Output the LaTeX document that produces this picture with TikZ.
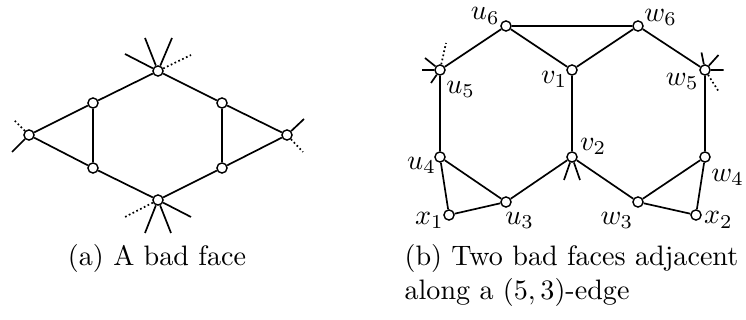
\documentclass[tikz,border=0pt]{standalone}
\usetikzlibrary{positioning}
\tikzset{
  vertex/.style={circle, draw, fill=white, inner sep=0pt, minimum size=3.6pt, line width=0.5pt},
  graphedge/.style={line width=0.6pt},
  stubdotted/.style={line width=0.6pt, dash pattern=on 0.6pt off 0.9pt},
  lbl/.style={label distance=0pt, inner sep=0.6pt},
}
\begin{document}
\begin{tikzpicture}[x=0.0125cm, y=-0.0125cm]
  \useasboundingbox (0,0) rectangle (746,320);
  % (a) a bad face
  \node[vertex] (at) at (158,71) {};
  \node[vertex] (aul) at (93,103) {};
  \node[vertex] (aur) at (222,103) {};
  \node[vertex] (al) at (29,135) {};
  \node[vertex] (ar) at (287,135) {};
  \node[vertex] (all) at (93,168) {};
  \node[vertex] (alr) at (222,168) {};
  \node[vertex] (ab) at (158,200) {};
  \draw[graphedge] (at) -- (aur) -- (ar) -- (alr) -- (ab) -- (all) -- (al) -- (aul) -- (at);
  \draw[graphedge] (aul) -- (all) (aur) -- (alr);
  \draw[graphedge] (at) -- ++(-33,-17) (at) -- ++(-13,-33) (at) -- ++(14,-33);
  \draw[stubdotted] (at) -- ++(33,-16);
  \draw[graphedge] (ab) -- ++(33,17) (ab) -- ++(13,33) (ab) -- ++(-13,33);
  \draw[stubdotted] (ab) -- ++(-33,17);
  \draw[graphedge] (al) -- ++(-17,17);
  \draw[stubdotted] (al) -- ++(-16,-16);
  \draw[graphedge] (ar) -- ++(17,-16);
  \draw[stubdotted] (ar) -- ++(16,17);
  \node (capa) at (157,258) {(a) A bad face};

  % (b) two bad faces along a (5,3)-edge
  \node[vertex, label={[lbl,yshift=-1.6pt]above left:$u_6$}] (u6) at (506,26) {};
  \node[vertex, label={[lbl,yshift=-2pt]above right:$w_6$}] (w6) at (638,26) {};
  \node[vertex, label={[lbl,yshift=-1.8pt]below right:$u_5$}] (u5) at (440,70) {};
  \node[vertex, label={[lbl,xshift=0.6pt,yshift=1.8pt]below left:$v_1$}] (v1) at (572,70) {};
  \node[vertex, label={[lbl,yshift=1pt]below left:$w_5$}] (w5) at (705,70) {};
  \node[vertex, label={[lbl,xshift=1.4pt,yshift=-3pt]left:$u_4$}] (u4) at (440,157) {};
  \node[vertex, label={[lbl,xshift=0.6pt,yshift=-1.4pt]above right:$v_2$}] (v2) at (572,157) {};
  \node[vertex, label={[lbl,yshift=-2pt]below right:$w_4$}] (w4) at (705,157) {};
  \node[vertex, label={[lbl,xshift=-2.5pt,yshift=-1.4pt]below right:$u_3$}] (u3) at (506,202) {};
  \node[vertex, label={[lbl,xshift=0.6pt,yshift=-1.4pt]below left:$w_3$}] (w3) at (638,202) {};
  \node[vertex, label={[lbl,xshift=1pt,yshift=-2pt]left:$x_1$}] (x1) at (449,215) {};
  \node[vertex, label={[lbl,yshift=-1.8pt]right:$x_2$}] (x2) at (696,215) {};
  \draw[graphedge] (u6) -- (w6) -- (w5) -- (w4) -- (w3) -- (v2) -- (u3) -- (u4) -- (u5) -- (u6) -- (v1) -- (w6);
  \draw[graphedge] (v1) -- (v2);
  \draw[graphedge] (u4) -- (x1) -- (u3) (w4) -- (x2) -- (w3);
  \draw[graphedge] (u5) -- ++(-18,0) (u5) -- ++(-15,-12) (u5) -- ++(-9,13);
  \draw[stubdotted] (u5) -- ++(6,-27);
  \draw[graphedge] (w5) -- ++(-3.5,-17.5) (w5) -- ++(13.5,-15) (w5) -- ++(18.5,0);
  \draw[stubdotted] (w5) -- ++(14,22);
  \draw[graphedge] (v2) -- ++(-8,23) (v2) -- ++(8,23);
  \node[anchor=north west, align=left, inner sep=0pt] (capb) at (404,244)
    {(b) Two bad faces adjacent\\along a $(5,3)$-edge};
\end{tikzpicture}
\end{document}
